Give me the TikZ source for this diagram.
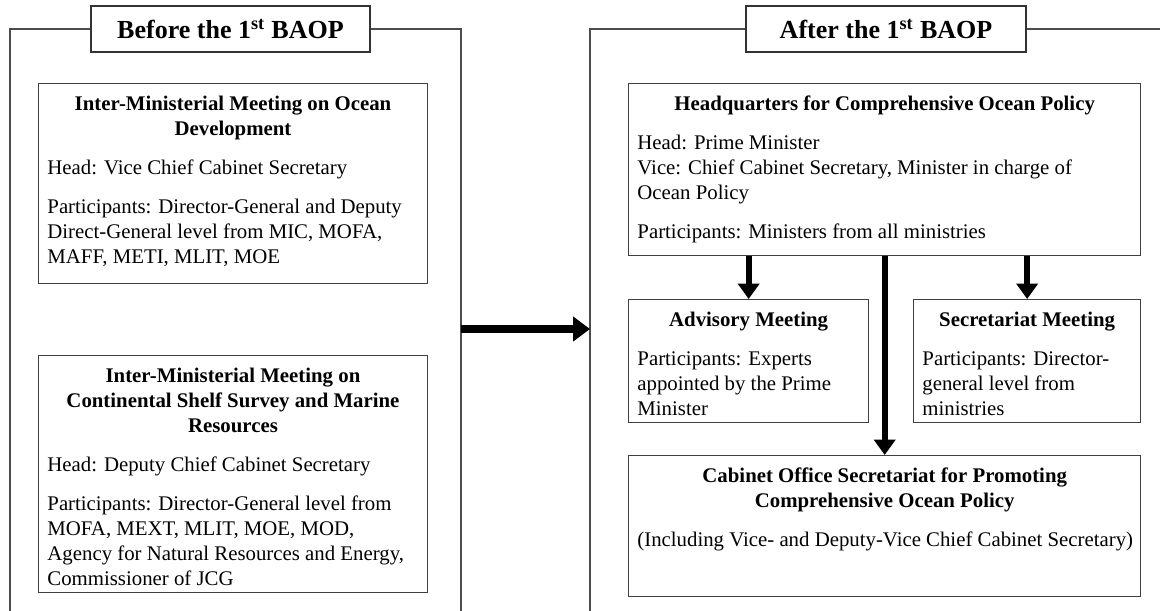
\documentclass[tikz,border=0pt]{standalone}
\usepackage{fontspec}
\setmainfont{Liberation Serif}
\usetikzlibrary{arrows.meta}
\newcommand{\bodysize}{\fontsize{14.8pt}{17.8pt}\selectfont}
\newcommand{\orgtitle}[1]{{\centering\bfseries #1\par}}
\newcommand{\orgtext}[3]{\parbox[t][#2][t]{#1}{\bodysize\raggedright\setlength{\parskip}{10pt}\vspace*{-1.5pt}#3}}
\tikzset{
  orgbox/.style={draw=black!75, line width=0.9pt, anchor=north west, inner xsep=0.22cm, inner ysep=0pt},
  headbox/.style={draw=black!80, line width=0.9pt, minimum height=1.15cm, font=\fontsize{18.5pt}{22pt}\selectfont\bfseries},
  frameline/.style={draw=black!70, line width=0.9pt},
  bigarrow/.style={line width=5pt, -{Triangle[length=12pt,width=17pt]}},
  downarrow/.style={line width=4.5pt, -{Triangle[length=11pt,width=15pt]}}
}
\begin{document}
\begin{tikzpicture}[x=0.025cm, y=-0.025cm]
\useasboundingbox (0,0) rectangle (1160,611);
\node[headbox, minimum width=6.975cm] (before) at (230.5,29) {Before the 1\textsuperscript{st} BAOP};
\node[headbox, minimum width=7cm] (after) at (886,29) {After the 1\textsuperscript{st} BAOP};
\draw[frameline] (before.west) -- (10,29) -- (10,611);
\draw[frameline] (before.east) -- (461,29) -- (461,611);
\draw[frameline] (after.west) -- (590,29) -- (590,611);
\draw[frameline] (after.east) -- (1160,29);

\node[orgbox] (ocean) at (38,83) {\orgtext{9.275cm}{5cm}{%
  \orgtitle{Inter-Ministerial Meeting on Ocean\\ Development}
  Head: Vice Chief Cabinet Secretary\par
  Participants: Director-General and Deputy\\ Direct-General level from MIC, MOFA,\\ MAFF, METI, MLIT, MOE}};
\node[orgbox] (shelf) at (38,355) {\orgtext{9.275cm}{5.925cm}{%
  \orgtitle{Inter-Ministerial Meeting on\\ Continental Shelf Survey and Marine\\ Resources}
  Head: Deputy Chief Cabinet Secretary\par
  Participants: Director-General level from\\ MOFA, MEXT, MLIT, MOE, MOD,\\ Agency for Natural Resources and Energy,\\ Commissioner of JCG}};

\node[orgbox] (hq) at (628,83) {\orgtext{12.36cm}{4.3cm}{%
  \orgtitle{Headquarters for Comprehensive Ocean Policy}
  Head: Prime Minister\\ Vice: Chief Cabinet Secretary, Minister in charge of\\ Ocean Policy\par
  Participants: Ministers from all ministries}};
\node[orgbox] (adv) at (628,299) {\orgtext{5.56cm}{3.075cm}{%
  \orgtitle{Advisory Meeting}
  Participants: Experts\\ appointed by the Prime\\ Minister}};
\node[orgbox] (sec) at (913,299) {\orgtext{5.235cm}{3.075cm}{%
  \orgtitle{Secretariat Meeting}
  Participants: Director-\\ general level from\\ ministries}};
\node[orgbox] (cab) at (628,455) {\orgtext{12.36cm}{3.525cm}{%
  \orgtitle{Cabinet Office Secretariat for Promoting\\ Comprehensive Ocean Policy}
  \mbox{(Including Vice- and Deputy-Vice Chief Cabinet Secretary)}}};

\draw[downarrow] (adv.north |- hq.south) -- (adv.north);
\draw[downarrow] (sec.north |- hq.south) -- (sec.north);
\draw[downarrow] (cab.north |- hq.south) -- (cab.north);
\coordinate (lframe) at (461,329);
\coordinate (rframe) at (590,329);
\draw[bigarrow] (lframe) -- (rframe);
\end{tikzpicture}
\end{document}
